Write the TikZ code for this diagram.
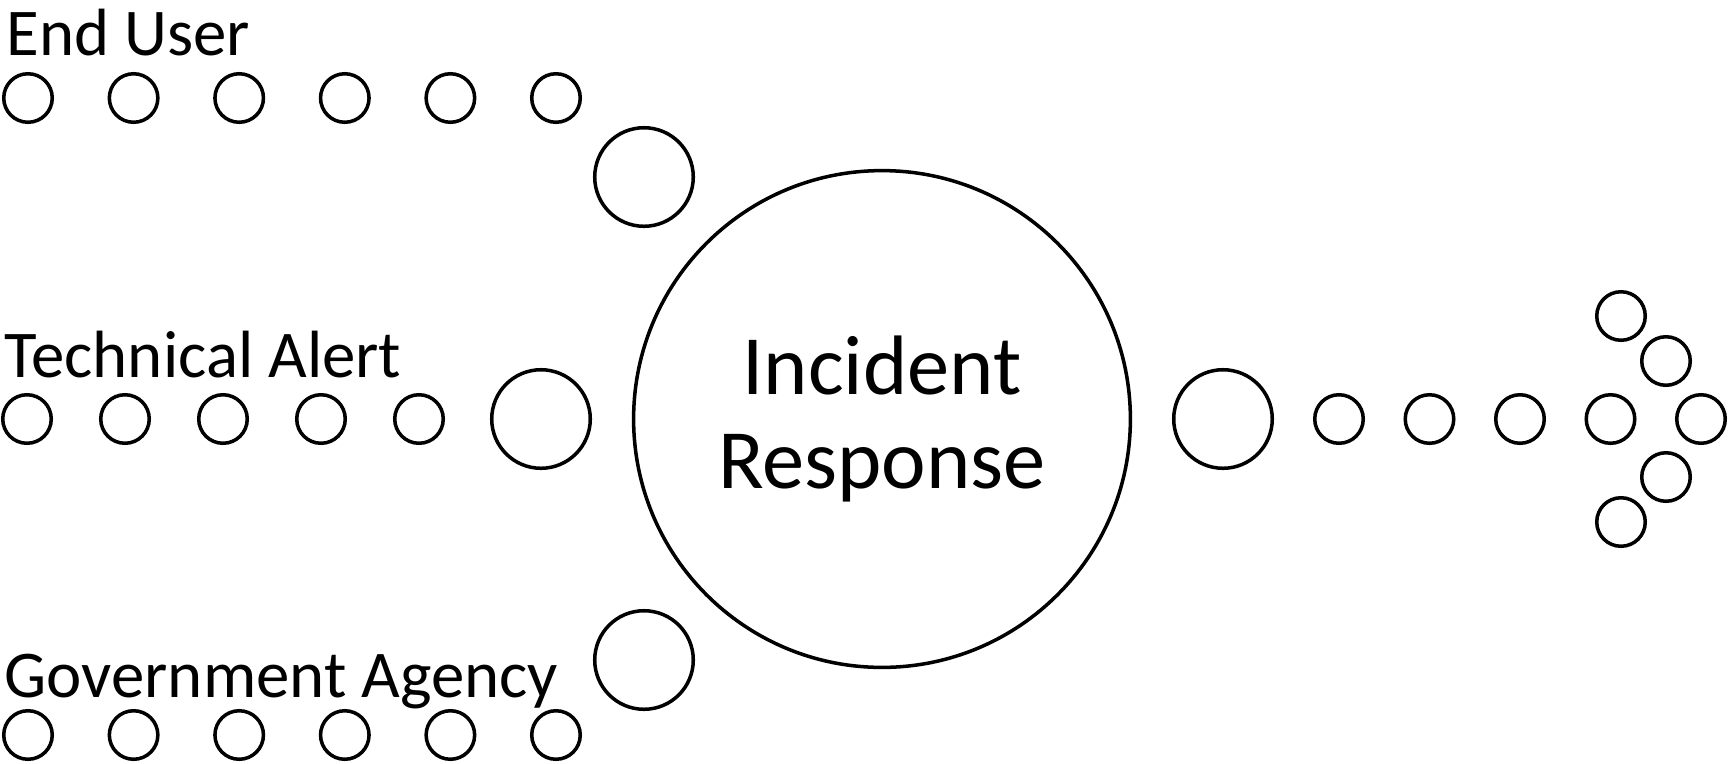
\documentclass[tikz,border=0pt]{standalone}
\usepackage{fontspec}
\setmainfont{Carlito}
\usepackage{tikz}

\tikzset{
  dot/.style={draw, circle, line width=1pt, inner sep=0pt, minimum size=0.485cm},
  bigdot/.style={draw, circle, line width=1pt, inner sep=0pt, minimum size=0.985cm},
  hub/.style={draw, circle, line width=1pt, inner sep=0pt, minimum size=4.965cm,
    align=center, font=\fontsize{24}{27}\selectfont},
  source/.style={anchor=base west, inner sep=0pt, font=\fontsize{19}{22}\selectfont}
}

\begin{document}
\begin{tikzpicture}[x=0.01cm, y=-0.01cm]
		% 1. canvas
		\useasboundingbox (0,0) rectangle (1729,763);
		
		\def\axis{419}
		
		% 2. central circle
		\node[hub] (ir) at (882,\axis) {Incident\\Response};
		
		% 3. End User
		\node[source] (eu) at (6,55) {End User};
		\foreach \i in {1,...,6}
			\node[dot] (eu\i) at ({28+105.6*(\i-1)},98) {};
		\node[bigdot] (eubig) at (644,177) {};
		
		% 4. Technical Alert
		\node[source] (ta) at (4,377) {Technical Alert};
		\foreach \i in {1,...,5}
			\node[dot] (ta\i) at ({27+98*(\i-1)},\axis) {};
		\node[bigdot] (tabig) at (541,\axis) {};
		
		% 5. Government Agency
		\node[source] (ga) at (4,697) {Government Agency};
		\foreach \i in {1,...,6}
			\node[dot] (ga\i) at ({28+105.6*(\i-1)},735) {};
		\node[bigdot] (gabig) at (644,660) {};
		
		% 6. outgoing arrow of circles
		\node[bigdot] (outbig) at (1223,\axis) {};
		\foreach \i in {1,...,5}
			\node[dot] (out\i) at ({1339+90.5*(\i-1)},\axis) {};
		\node[dot] (arr1) at (1621,316) {};
		\node[dot] (arr2) at (1666,361) {};
		\node[dot] (arr3) at (1666,477) {};
		\node[dot] (arr4) at (1621,522) {};
		
	\end{tikzpicture}
\end{document}
